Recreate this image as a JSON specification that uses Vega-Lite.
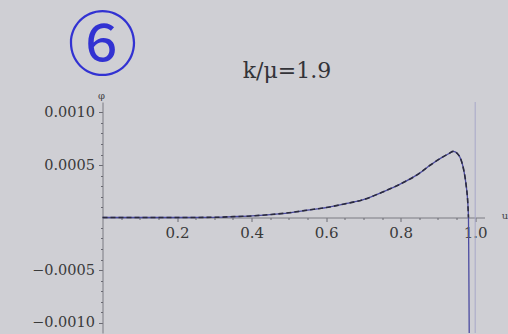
{
  "$schema": "https://vega.github.io/schema/vega-lite/v6.json",
  "width": 382,
  "height": 231,
  "autosize": {"type": "none"},
  "padding": {"left": 102.5, "top": 102, "right": 23.5, "bottom": 1},
  "background": "#cfcfd4",
  "config": {"view": {"stroke": null}, "axis": {"grid": false}},
  "resolve": {"axis": {"x": "independent", "y": "independent"}},
  "datasets": {
    "curve": [
      {"u": 0, "phi": 0},
      {"u": 0.1, "phi": 0},
      {"u": 0.2, "phi": 0},
      {"u": 0.3, "phi": 0.000002},
      {"u": 0.35, "phi": 0.000008},
      {"u": 0.4, "phi": 0.000015},
      {"u": 0.45, "phi": 0.000028},
      {"u": 0.5, "phi": 0.000045},
      {"u": 0.55, "phi": 0.00007},
      {"u": 0.6, "phi": 0.000095},
      {"u": 0.65, "phi": 0.00013},
      {"u": 0.7, "phi": 0.00017},
      {"u": 0.75, "phi": 0.00024},
      {"u": 0.8, "phi": 0.00032},
      {"u": 0.85, "phi": 0.00042},
      {"u": 0.88, "phi": 0.0005},
      {"u": 0.91, "phi": 0.00057},
      {"u": 0.93, "phi": 0.00061},
      {"u": 0.941, "phi": 0.00063},
      {"u": 0.952, "phi": 0.00061},
      {"u": 0.962, "phi": 0.00055},
      {"u": 0.97, "phi": 0.00044},
      {"u": 0.976, "phi": 0.0003},
      {"u": 0.98, "phi": 0.00015},
      {"u": 0.982, "phi": 0},
      {"u": 0.983, "phi": -0.0005},
      {"u": 0.984, "phi": -0.0011}
    ]
  },
  "layer": [
    {
      "data": {"name": "curve"},
      "mark": {"type": "line", "color": "#4a4aa0", "strokeWidth": 1.3, "interpolate": "monotone", "clip": true},
      "encoding": {
        "x": {
          "field": "u", "type": "quantitative",
          "scale": {"domain": [0, 1.025], "nice": false},
          "axis": {
            "orient": "bottom", "offset": -115.5, "title": null,
            "values": [0.2, 0.4, 0.6, 0.8, 1.0],
            "format": ".1f",
            "tickSize": 4, "labelPadding": 4, "labelOverlap": false, "labelFlush": false,
            "domainColor": "#7a7a82", "tickColor": "#6a6a72",
            "labelFont": "DejaVu Serif", "labelFontSize": 15, "labelColor": "#3a3a3a"
          }
        },
        "y": {
          "field": "phi", "type": "quantitative",
          "scale": {"domain": [-0.0011, 0.0011], "nice": false, "zero": false},
          "axis": {
            "orient": "left", "title": null,
            "values": [-0.001, -0.0005, 0.0005, 0.001],
            "format": ".4f",
            "tickSize": 4, "labelPadding": 4, "labelOverlap": false, "labelFlush": false,
            "domainColor": "#7a7a82", "tickColor": "#6a6a72",
            "labelFont": "DejaVu Serif", "labelFontSize": 14.5, "labelColor": "#3a3a3a"
          }
        }
      }
    },
    {
      "data": {"name": "curve"},
      "transform": [{"filter": "datum.phi >= 0"}],
      "mark": {"type": "line", "color": "#2b2b3d", "strokeWidth": 1.6, "strokeDash": [5, 3], "interpolate": "monotone"},
      "encoding": {
        "x": {
          "field": "u", "type": "quantitative",
          "scale": {"domain": [0, 1.025], "nice": false},
          "axis": {
            "orient": "bottom", "offset": -115.5, "title": null, "labels": false, "domain": false,
            "values": [0.05, 0.1, 0.15, 0.25, 0.3, 0.35, 0.45, 0.5, 0.55, 0.65, 0.7, 0.75, 0.85, 0.9, 0.95],
            "tickSize": 2, "tickColor": "#6a6a72"
          }
        },
        "y": {
          "field": "phi", "type": "quantitative",
          "scale": {"domain": [-0.0011, 0.0011], "nice": false, "zero": false},
          "axis": {
            "orient": "left", "title": null, "labels": false, "domain": false,
            "values": [-0.0009, -0.0008, -0.0007, -0.0006, -0.0004, -0.0003, -0.0002, -0.0001, 0.0001, 0.0002, 0.0003, 0.0004, 0.0006, 0.0007, 0.0008, 0.0009],
            "tickSize": 2, "tickColor": "#6a6a72"
          }
        }
      }
    },
    {
      "data": {"values": [{"u": 1.0}]},
      "mark": {"type": "rule", "color": "#a8a8c8", "strokeWidth": 1},
      "encoding": {
        "x": {"field": "u", "type": "quantitative", "scale": {"domain": [0, 1.025], "nice": false}, "axis": null}
      }
    },
    {
      "data": {"values": [{"u": 0.0, "phi": 0.0016048, "label": "⑥"}]},
      "mark": {"type": "text", "font": "Noto Sans CJK JP", "fontSize": 70, "color": "#3232d2", "align": "center", "baseline": "middle"},
      "encoding": {
        "x": {"field": "u", "type": "quantitative", "scale": {"domain": [0, 1.025], "nice": false}, "axis": null},
        "y": {"field": "phi", "type": "quantitative", "scale": {"domain": [-0.0011, 0.0011], "nice": false, "zero": false}, "axis": null},
        "text": {"field": "label"}
      }
    },
    {
      "data": {"values": [{"u": 0.495, "phi": 0.0014, "label": "k/μ=1.9"}]},
      "mark": {"type": "text", "font": "DejaVu Serif", "fontSize": 22, "color": "#333338", "align": "center", "baseline": "middle"},
      "encoding": {
        "x": {"field": "u", "type": "quantitative", "scale": {"domain": [0, 1.025], "nice": false}, "axis": null},
        "y": {"field": "phi", "type": "quantitative", "scale": {"domain": [-0.0011, 0.0011], "nice": false, "zero": false}, "axis": null},
        "text": {"field": "label"}
      }
    },
    {
      "data": {"values": [{"u": -0.003, "phi": 0.001155, "label": "φ"}, {"u": 1.08, "phi": 0.00001, "label": "u"}]},
      "mark": {"type": "text", "font": "DejaVu Serif", "fontSize": 10, "color": "#444448", "align": "center", "baseline": "middle"},
      "encoding": {
        "x": {"field": "u", "type": "quantitative", "scale": {"domain": [0, 1.025], "nice": false}, "axis": null},
        "y": {"field": "phi", "type": "quantitative", "scale": {"domain": [-0.0011, 0.0011], "nice": false, "zero": false}, "axis": null},
        "text": {"field": "label"}
      }
    }
  ]
}
